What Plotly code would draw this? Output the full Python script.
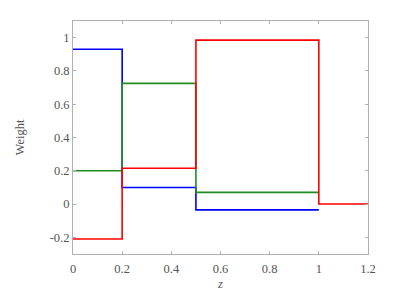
import plotly.graph_objects as go

x_blue = [0, 0.2, 0.5, 1.0]
y_blue = [0.93, 0.1, -0.035, -0.035]
x_green = [0, 0.2, 0.5, 1.0]
y_green = [0.2, 0.725, 0.07, 0.07]
x_red = [0, 0.2, 0.5, 1.0, 1.2]
y_red = [-0.21, 0.215, 0.985, 0.0, 0.0]

xticks = [0, 0.2, 0.4, 0.6, 0.8, 1.0, 1.2]
xtick_labels = ["0", "0.2", "0.4", "0.6", "0.8", "1", "1.2"]
yticks = [-0.2, 0, 0.2, 0.4, 0.6, 0.8, 1.0]
ytick_labels = ["-0.2", "0", "0.2", "0.4", "0.6", "0.8", "1"]

fig = go.Figure()
for xs, ys, col in [(x_blue, y_blue, "#0000ff"), (x_green, y_green, "#228b22"), (x_red, y_red, "#ff0000")]:
    fig.add_trace(go.Scatter(x=xs, y=ys, mode="lines", line=dict(shape="hv", color=col, width=1.6),
                             showlegend=False, hoverinfo="skip"))

font = dict(family="'Liberation Serif', serif", size=12.5, color="#555555")
axis_common = dict(showgrid=False, zeroline=False, showline=True, linecolor="#b0b0b0", linewidth=1,
                   mirror="ticks", ticks="inside", ticklen=3, tickcolor="#b0b0b0", tickfont=font,
                   automargin=False)
fig.update_layout(
    width=397, height=283,
    margin=dict(l=65, r=37, t=13, b=37),
    paper_bgcolor="white", plot_bgcolor="white",
    font=font,
    xaxis=dict(range=[0, 1.2], tickvals=xticks, ticktext=xtick_labels, ticklabelstandoff=3,
               title=dict(text="<i>z</i>", font=font, standoff=8), **axis_common),
    yaxis=dict(range=[-0.3, 1.1], tickvals=yticks, ticktext=ytick_labels, ticklabelstandoff=0,
               title=dict(text="Weight", font=font, standoff=22), **axis_common),
)
fig.write_html("out.html")
